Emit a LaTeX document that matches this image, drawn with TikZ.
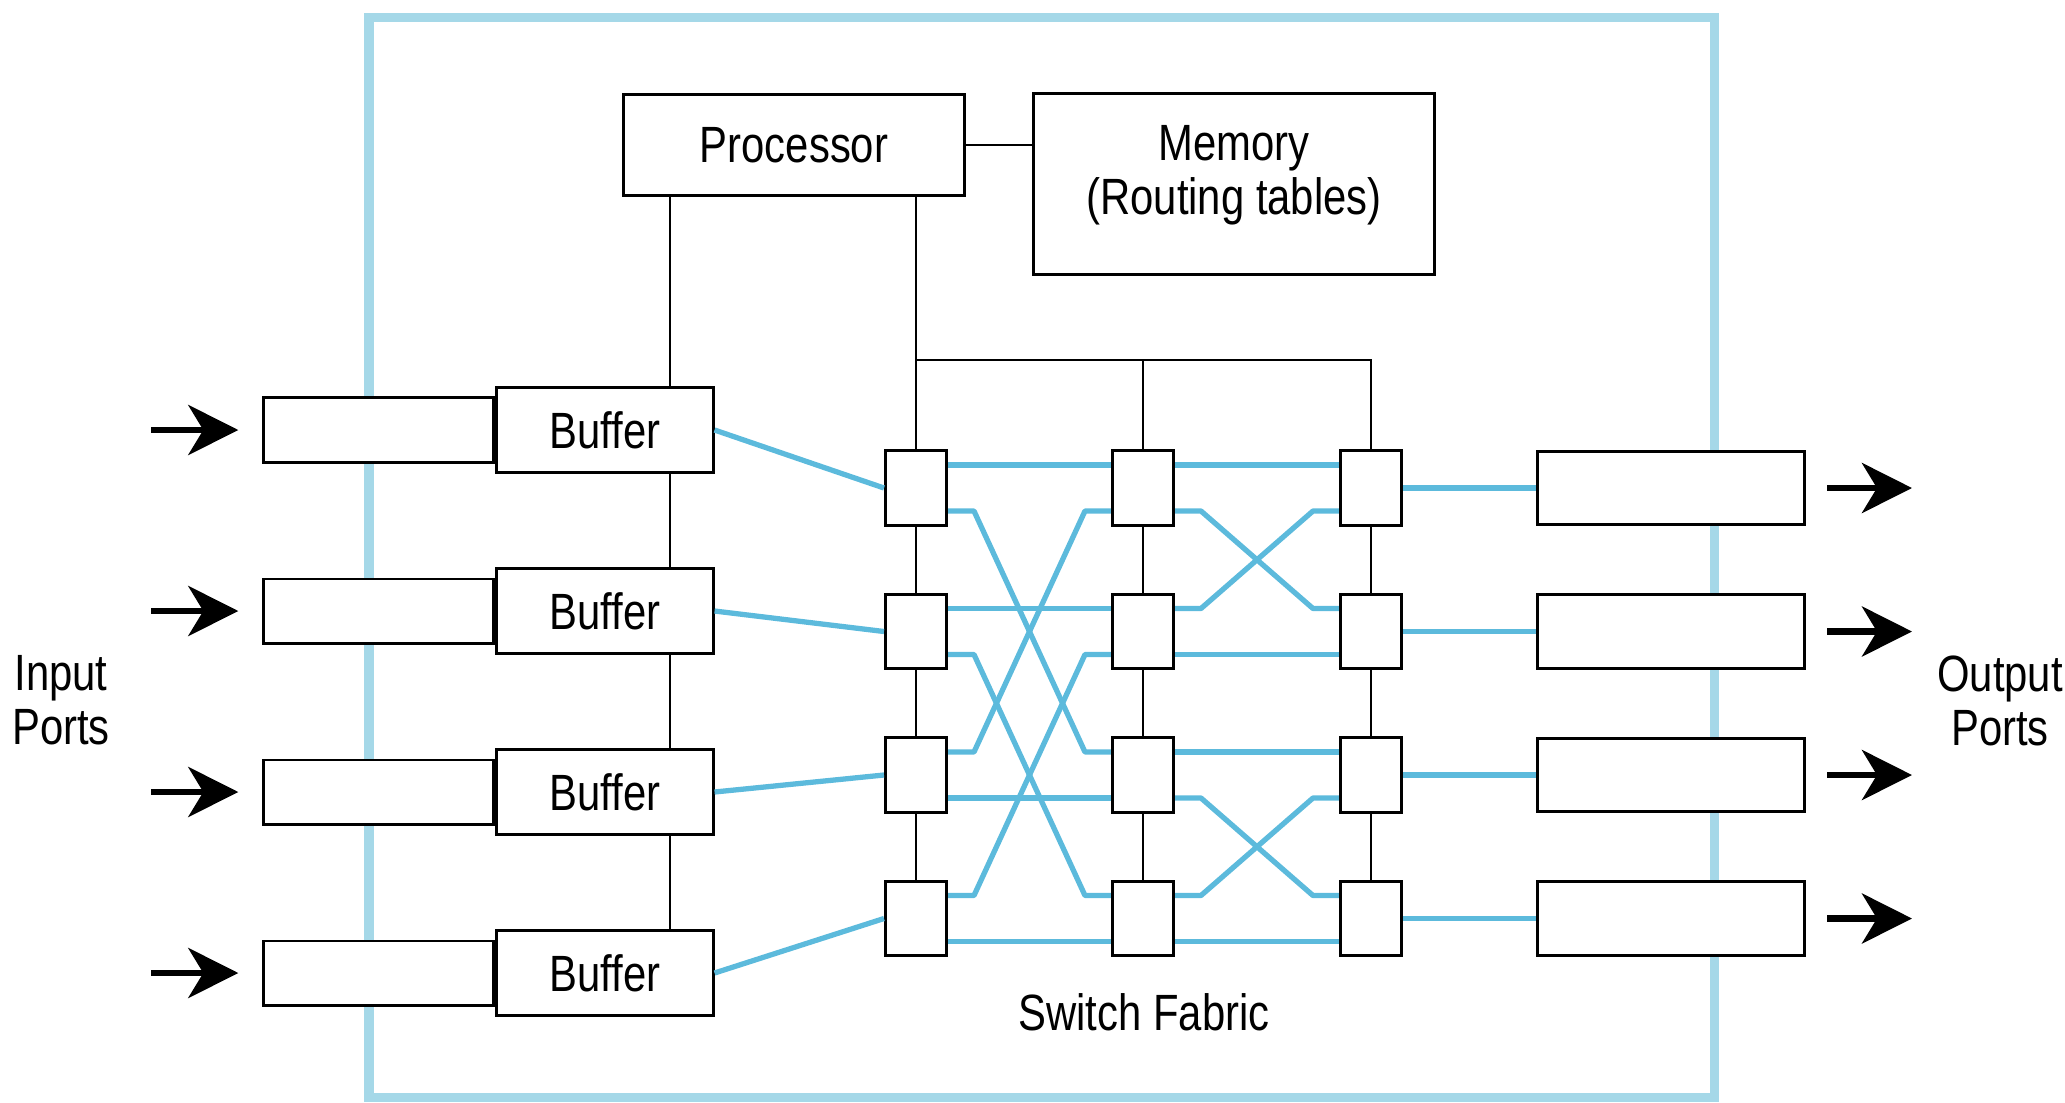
\documentclass[tikz,border=0pt]{standalone}
\usepackage{fontspec}
\setmainfont{Liberation Sans}[FakeStretch=0.82]
\usetikzlibrary{arrows.meta}

\definecolor{frameblue}{RGB}{165,216,232}
\definecolor{linkblue}{RGB}{92,186,220}

\begin{document}
\begin{tikzpicture}[x=0.01cm,y=-0.01cm,>={Stealth[length=5mm,width=5mm,inset=1.5mm]},
		every node/.style={font=\fontsize{14.5}{15.5}\selectfont},
		box/.style={draw,line width=0.85pt,fill=white,inner sep=0pt},
		swbox/.style={box,minimum width=6.1mm,minimum height=7.4mm},
		bufbox/.style={box,minimum width=21.6mm,minimum height=8.4mm},
		inbox/.style={box,minimum width=23mm,minimum height=6.4mm,anchor=east},
		outbox/.style={box,minimum width=26.7mm,minimum height=7.3mm},
		wire/.style={line width=0.6pt},
		link/.style={linkblue,line width=1.5pt,line join=round},
		port/.style={->,line width=1.8pt}]
		\def\kink{26}
		
		\useasboundingbox (0,0) rectangle (2065,1102);
		\draw[frameblue,line width=0.09cm] (369,17) rectangle (1714,1097);
		
		\node[box,minimum width=34.1mm,minimum height=10mm] (proc) at (794,145) {Processor};
		\node[box,minimum width=40mm,minimum height=18mm] (mem) at (1234,184) {};
		\node[align=center] (memtxt) at (1234,175) {Memory\\(Routing tables)};
		
		% input side
		\foreach \r/\y in {1/430,2/611,3/792,4/973}{
			\node[bufbox] (buf\r) at (605,\y) {Buffer};
			\node[inbox] (inp\r) at (buf\r.west) {};
			\coordinate (in\r) at (151,\y);
			\draw[port,shorten >=2.4mm] (in\r) -- (inp\r.west);
		}
		
		% switch fabric
		\foreach \c/\x in {1/916,2/1143,3/1371}
		\foreach \r/\y in {1/488,2/631.5,3/775,4/918.5}{
			\node[swbox] (s\c\r) at (\x,\y) {};
			\coordinate (s\c\r-iu) at ([yshift=2.3mm]s\c\r.west);
			\coordinate (s\c\r-il) at ([yshift=-2.3mm]s\c\r.west);
			\coordinate (s\c\r-ou) at ([yshift=2.3mm]s\c\r.east);
			\coordinate (s\c\r-ol) at ([yshift=-2.3mm]s\c\r.east);
		}
		
		% output side
		\foreach \r/\y in {1/488,2/631.5,3/775,4/918.5}{
			\node[outbox] (outp\r) at (1671,\y) {};
			\coordinate (out\r) at (1912,\y);
			\draw[port,shorten <=2.1mm] (outp\r.east) -- (out\r);
		}
		
		% control wires
		\coordinate (bus) at (0,360);
		\coordinate (pl) at ([xshift=4.8mm]proc.south west);
		\draw[wire] (proc.east) -- (mem.west |- proc.east);
		\draw[wire] (pl) -- (pl |- buf1.north);
		\foreach \a/\b in {1/2,2/3,3/4}
			\draw[wire] (pl |- buf\a.south) -- (pl |- buf\b.north);
		\draw[wire] (s11 |- proc.south) -- (s11.north);
		\draw[wire] (s11 |- bus) -- (s31 |- bus) -- (s31.north);
		\draw[wire] (s21 |- bus) -- (s21.north);
		\foreach \c in {1,2,3}
		\foreach \a/\b in {1/2,2/3,3/4}
			\draw[wire] (s\c\a.south) -- (s\c\b.north);
		
		% data links
		\foreach \r in {1,...,4}{
			\draw[link] (buf\r.east) -- (s1\r.west);
			\draw[link] (s3\r.east) -- (outp\r.west);
		}
		\foreach \a/\b in {s11-ou/s21-iu,s12-ou/s22-iu,s13-ol/s23-il,s14-ol/s24-il,
			s21-ou/s31-iu,s22-ol/s32-il,s23-ou/s33-iu,s24-ol/s34-il}
			\draw[link] (\a) -- (\b);
		\foreach \a/\b in {s11-ol/s23-iu,s12-ol/s24-iu,s13-ou/s21-il,s14-ou/s22-il,
			s21-ol/s32-iu,s22-ou/s31-il,s23-ol/s34-iu,s24-ou/s33-il}
			\draw[link] (\a) -- ++(\kink,0) -- ([xshift=-2.6mm]\b) -- (\b);
		
		\node[align=center] (inlbl) at (61,700) {Input\\Ports};
		\node[align=center] (outlbl) at (2000,701) {Output\\Ports};
		\node (fablbl) at (1144,1012) {Switch Fabric};
	\end{tikzpicture}
\end{document}
